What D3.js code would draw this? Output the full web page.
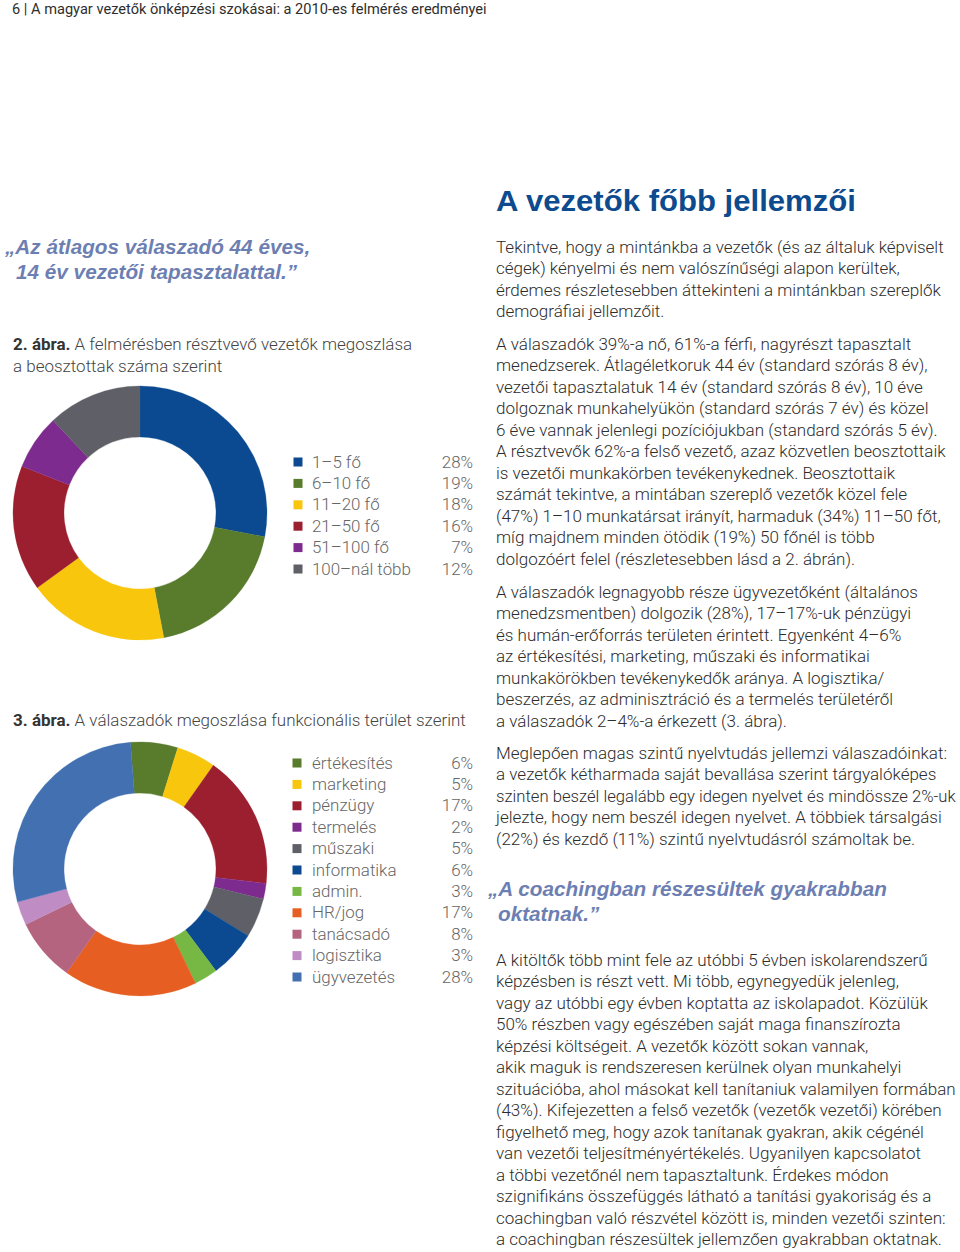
<!DOCTYPE html>
<html><head><meta charset="utf-8">
<script src="https://cdn.jsdelivr.net/npm/d3@7"></script>
<style>html,body{margin:0;padding:0;background:#fff;}svg{display:block;}</style>
</head><body>
<svg id="page" width="960" height="1252"></svg>
<script>
// ---------- DATA ----------
const chart2Categories = ["1–5 fő","6–10 fő","11–20 fő","21–50 fő","51–100 fő","100–nál több"];
const chart2Values = [28,19,18,16,7,12];
const chart2Colors = ["#0b4a91","#587b2c","#f8c60d","#9c1f30","#7e2b8f","#5e5f67"];

const chart3Categories = ["értékesítés","marketing","pénzügy","termelés","műszaki","informatika","admin.","HR/jog","tanácsadó","logisztika","ügyvezetés"];
const chart3Values = [6,5,17,2,5,6,3,17,8,3,28];
const chart3Colors = ["#587b2c","#f8c60d","#9c1f30","#7e2b8f","#5e5f67","#0b4a91","#77b844","#e65e22","#b4647f","#c08cc4","#4270b0"];

const headerText = "6 | A magyar vezetők önképzési szokásai: a 2010-es felmérés eredményei";
const headingText = "A vezetők főbb jellemzői";
const quote1Lines = ["„Az átlagos válaszadó 44 éves,", "14 év vezetői tapasztalattal.”"];
const quote2Lines = ["„A coachingban részesültek gyakrabban", "oktatnak.”"];
const caption2 = {bold:"2. ábra.", rest:[" A felmérésben résztvevő vezetők megoszlása","a beosztottak száma szerint"]};
const caption3 = {bold:"3. ábra.", rest:[" A válaszadók megoszlása funkcionális terület szerint"]};

const para1 = ["Tekintve, hogy a mintánkba a vezetők (és az általuk képviselt",
"cégek) kényelmi és nem valószínűségi alapon kerültek,",
"érdemes részletesebben áttekinteni a mintánkban szereplők",
"demográfiai jellemzőit."];
const para2 = ["A válaszadók 39%-a nő, 61%-a férfi, nagyrészt tapasztalt",
"menedzserek. Átlagéletkoruk 44 év (standard szórás 8 év),",
"vezetői tapasztalatuk 14 év (standard szórás 8 év), 10 éve",
"dolgoznak munkahelyükön (standard szórás 7 év) és közel",
"6 éve vannak jelenlegi pozíciójukban (standard szórás 5 év).",
"A résztvevők 62%-a felső vezető, azaz közvetlen beosztottaik",
"is vezetői munkakörben tevékenykednek. Beosztottaik",
"számát tekintve, a mintában szereplő vezetők közel fele",
"(47%) 1–10 munkatársat irányít, harmaduk (34%) 11–50 főt,",
"míg majdnem minden ötödik (19%) 50 főnél is több",
"dolgozóért felel (részletesebben lásd a 2. ábrán)."];
const para3 = ["A válaszadók legnagyobb része ügyvezetőként (általános",
"menedzsmentben) dolgozik (28%), 17–17%-uk pénzügyi",
"és humán-erőforrás területen érintett. Egyenként 4–6%",
"az értékesítési, marketing, műszaki és informatikai",
"munkakörökben tevékenykedők aránya. A logisztika/",
"beszerzés, az adminisztráció és a termelés területéről",
"a válaszadók 2–4%-a érkezett (3. ábra)."];
const para4 = ["Meglepően magas szintű nyelvtudás jellemzi válaszadóinkat:",
"a vezetők kétharmada saját bevallása szerint tárgyalóképes",
"szinten beszél legalább egy idegen nyelvet és mindössze 2%-uk",
"jelezte, hogy nem beszél idegen nyelvet. A többiek társalgási",
"(22%) és kezdő (11%) szintű nyelvtudásról számoltak be."];
const para5 = ["A kitöltők több mint fele az utóbbi 5 évben iskolarendszerű",
"képzésben is részt vett. Mi több, egynegyedük jelenleg,",
"vagy az utóbbi egy évben koptatta az iskolapadot. Közülük",
"50% részben vagy egészében saját maga finanszírozta",
"képzési költségeit. A vezetők között sokan vannak,",
"akik maguk is rendszeresen kerülnek olyan munkahelyi",
"szituációba, ahol másokat kell tanítaniuk valamilyen formában",
"(43%). Kifejezetten a felső vezetők (vezetők vezetői) körében",
"figyelhető meg, hogy azok tanítanak gyakran, akik cégénél",
"van vezetői teljesítményértékelés. Ugyanilyen kapcsolatot",
"a többi vezetőnél nem tapasztaltunk. Érdekes módon",
"szignifikáns összefüggés látható a tanítási gyakoriság és a",
"coachingban való részvétel között is, minden vezetői szinten:",
"a coachingban részesültek jellemzően gyakrabban oktatnak."];

// ---------- STYLE / LAYOUT ----------
const svg = d3.select("#page");
const BODY = {family:"Roboto, 'Liberation Sans', sans-serif", weight:300, size:17, color:"#2c2c2c"};
const QUOTE = {family:"'Liberation Sans', Arial, sans-serif", weight:700, style:"italic", size:21, color:"#6d7fb2"};

function measure(str, f){
  const t = svg.append("text").attr("font-family",f.family).attr("font-weight",f.weight)
    .attr("font-style",f.style||"normal").attr("font-size",f.size).text(str);
  const w = t.node().getComputedTextLength(); t.remove(); return w;
}
function addText(g, str, x, y, f, k, anchor, maxW){
  let kk = k;
  if(maxW){ const w = measure(str, f)*k; if(w > maxW) kk = k*maxW/w; }
  return g.append("text").attr("transform",`translate(${x},${y}) scale(${kk},1)`)
    .attr("font-family",f.family).attr("font-weight",f.weight).attr("font-style",f.style||"normal")
    .attr("font-size",f.size).attr("fill",f.color).attr("text-anchor",anchor||"start").text(str);
}

const root = svg.append("g");

// header
const HEAD = {family:"Roboto, 'Liberation Sans', sans-serif", weight:400, size:14, color:"#2e2e2e"};
const kHead = 475/measure(headerText, HEAD);
addText(root, headerText, 12, 13.5, HEAD, kHead);

// heading
const H1 = {family:"'Liberation Sans', Arial, sans-serif", weight:700, size:30, color:"#0d4a8e"};
const kH1 = 360/measure(headingText, H1);
addText(root, headingText, 496, 211, H1, kH1);

// body paragraphs
const kBody = 448/measure(para1[0], BODY);
function para(lines, y0){
  lines.forEach((l,i)=> addText(root, l, 496, y0 + i*21.5 + 5.5, BODY, kBody, "start", 460));
}
para(para1, 247); para(para2, 344); para(para3, 592); para(para4, 753); para(para5, 960);

// quotes
const kQ = 399/measure(quote2Lines[0], QUOTE);
addText(root, quote1Lines[0], 5, 253.5, QUOTE, kQ);
addText(root, quote1Lines[1], 16, 278.5, QUOTE, kQ);
addText(root, quote2Lines[0], 488, 895.5, QUOTE, kQ);
addText(root, quote2Lines[1], 498, 920.5, QUOTE, kQ);

// captions
const CAP = {family:BODY.family, weight:300, size:17, color:"#444"};
const wCap3 = (function(){
  const t = svg.append("text").attr("font-family",CAP.family).attr("font-size",CAP.size);
  t.append("tspan").attr("font-weight",700).text(caption3.bold);
  t.append("tspan").attr("font-weight",300).text(caption3.rest[0]);
  const v = t.node().getComputedTextLength(); t.remove(); return v;})();
const kCap = 453/wCap3;
function drawCaption(c, y0){
  c.rest.forEach((line,i)=>{
    const t = root.append("text").attr("transform",`translate(13,${y0+i*22+5.5}) scale(${kCap},1)`)
      .attr("font-family",CAP.family).attr("font-size",CAP.size).attr("fill","#444");
    if(i===0) t.append("tspan").attr("font-weight",700).attr("fill","#333").text(c.bold);
    t.append("tspan").attr("font-weight",300).text(line);
  });
}
drawCaption(caption2, 344);
drawCaption(caption3, 720);

// ---------- DONUTS ----------
const LEG = {family:BODY.family, weight:300, size:16.5, color:"#666"};
const kLeg = 99/measure("100–nál több", LEG);

function donut(cats, vals, cols, cx, cy, startDeg, legendY0, legendX0){
  const pie = d3.pie().sort(null).value(d=>d)
    .startAngle(startDeg*Math.PI/180).endAngle(startDeg*Math.PI/180 + 2*Math.PI);
  const arc = d3.arc().innerRadius(76).outerRadius(127);
  const g = root.append("g").attr("transform",`translate(${cx},${cy})`);
  g.selectAll("path").data(pie(vals)).join("path")
    .attr("d",arc).attr("fill",(d,i)=>cols[i]).attr("stroke",(d,i)=>cols[i]).attr("stroke-width",0.3);

  const y = d3.scalePoint().domain(cats).range([legendY0, legendY0 + (cats.length-1)*21.4]);
  const lg = root.append("g");
  cats.forEach((c,i)=>{
    lg.append("rect").attr("x",legendX0).attr("y",y(c)-4.5).attr("width",9).attr("height",9).attr("fill",cols[i]);
    addText(lg, c, 312, y(c)+5.5, LEG, kLeg);
    addText(lg, vals[i]+"%", 473, y(c)+5.5, LEG, kLeg, "end");
  });
}
donut(chart2Categories, chart2Values, chart2Colors, 140, 513, 0, 462, 293.5);
donut(chart3Categories, chart3Values, chart3Colors, 140, 869, -4.3, 763, 292.5);
</script>
</body></html>
